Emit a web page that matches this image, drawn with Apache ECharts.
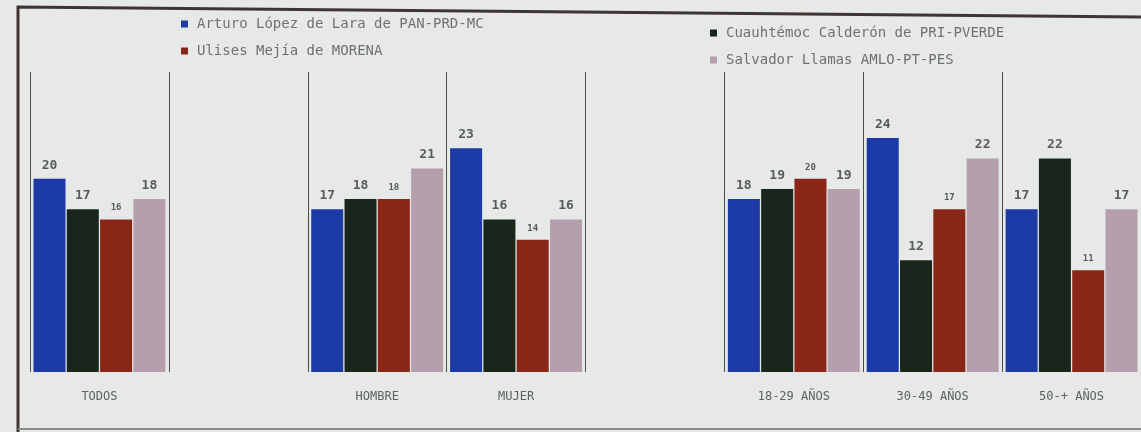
<!DOCTYPE html>
<html>
<head>
<meta charset="utf-8">
<script src="https://cdn.jsdelivr.net/npm/echarts@6/dist/echarts.min.js"></script>
<style>html,body{margin:0;padding:0;background:#e6e9e7;}#c{width:1141px;height:432px;}</style>
</head>
<body>
<div id="c"></div>
<script>
var categories = ['TODOS', '', 'HOMBRE', 'MUJER', '', '18-29 AÑOS', '30-49 AÑOS', '50-+ AÑOS'];
var seriesNames = ['Arturo López de Lara de PAN-PRD-MC', 'Cuauhtémoc Calderón de PRI-PVERDE', 'Ulises Mejía de MORENA', 'Salvador Llamas AMLO-PT-PES'];
var arturo   = [20, null, 17, 23, null, 18, 24, 17];
var cuauh    = [17, null, 18, 16, null, 19, 12, 22];
var ulises   = [16, null, 18, 14, null, 20, 17, 11];
var salvador = [18, null, 21, 16, null, 19, 22, 17];
var colors = ['#1b3aa6', '#18261c', '#8a2618', '#b59fad'];

var chart = echarts.init(document.getElementById('c'));
var mono = 'DejaVu Sans Mono';
function mk(name, data, color, small) {
  return {
    name: name, type: 'bar', data: data,
    barGap: '4%', barCategoryGap: '5%',
    itemStyle: {color: color},
    label: {
      show: true, position: 'top', distance: 7,
      fontFamily: mono, fontWeight: 'bold',
      fontSize: small ? 9 : 13, color: '#575b59'
    }
  };
}
var legendText = {fontFamily: mono, fontSize: 14, color: '#6e7170', padding: [0, 0, 0, 4]};
chart.setOption({
  backgroundColor: '#e6e9e7',
  animation: false,
  graphic: [{
    type: 'polyline', silent: true,
    shape: {points: [[18, 432], [18, 7], [1141, 17]]},
    style: {stroke: '#3e3432', lineWidth: 3, fill: null}
  }, {
    type: 'line', silent: true,
    shape: {x1: 18, y1: 429, x2: 1141, y2: 429},
    style: {stroke: '#8a8a86', lineWidth: 2}
  }],
  legend: [{
    left: 176, top: 12, orient: 'vertical', itemGap: 13,
    itemWidth: 7, itemHeight: 7, icon: 'rect',
    data: [seriesNames[0], seriesNames[2]],
    textStyle: legendText
  }, {
    left: 705, top: 21, orient: 'vertical', itemGap: 13,
    itemWidth: 7, itemHeight: 7, icon: 'rect',
    data: [seriesNames[1], seriesNames[3]],
    textStyle: legendText
  }],
  grid: {left: 30, right: -6, top: 72, bottom: 60},
  xAxis: {
    type: 'category', data: categories,
    axisLine: {show: false}, axisTick: {show: false},
    splitLine: {show: true, lineStyle: {color: '#4a4a4a', width: 1}},
    axisLabel: {fontFamily: mono, fontSize: 12, color: '#5e6260', margin: 19}
  },
  yAxis: {
    type: 'value', min: 1, max: 30.5, show: false,
    splitLine: {show: false}
  },
  series: [
    mk(seriesNames[0], arturo, colors[0], false),
    mk(seriesNames[1], cuauh, colors[1], false),
    mk(seriesNames[2], ulises, colors[2], true),
    mk(seriesNames[3], salvador, colors[3], false)
  ]
});
</script>
</body>
</html>
